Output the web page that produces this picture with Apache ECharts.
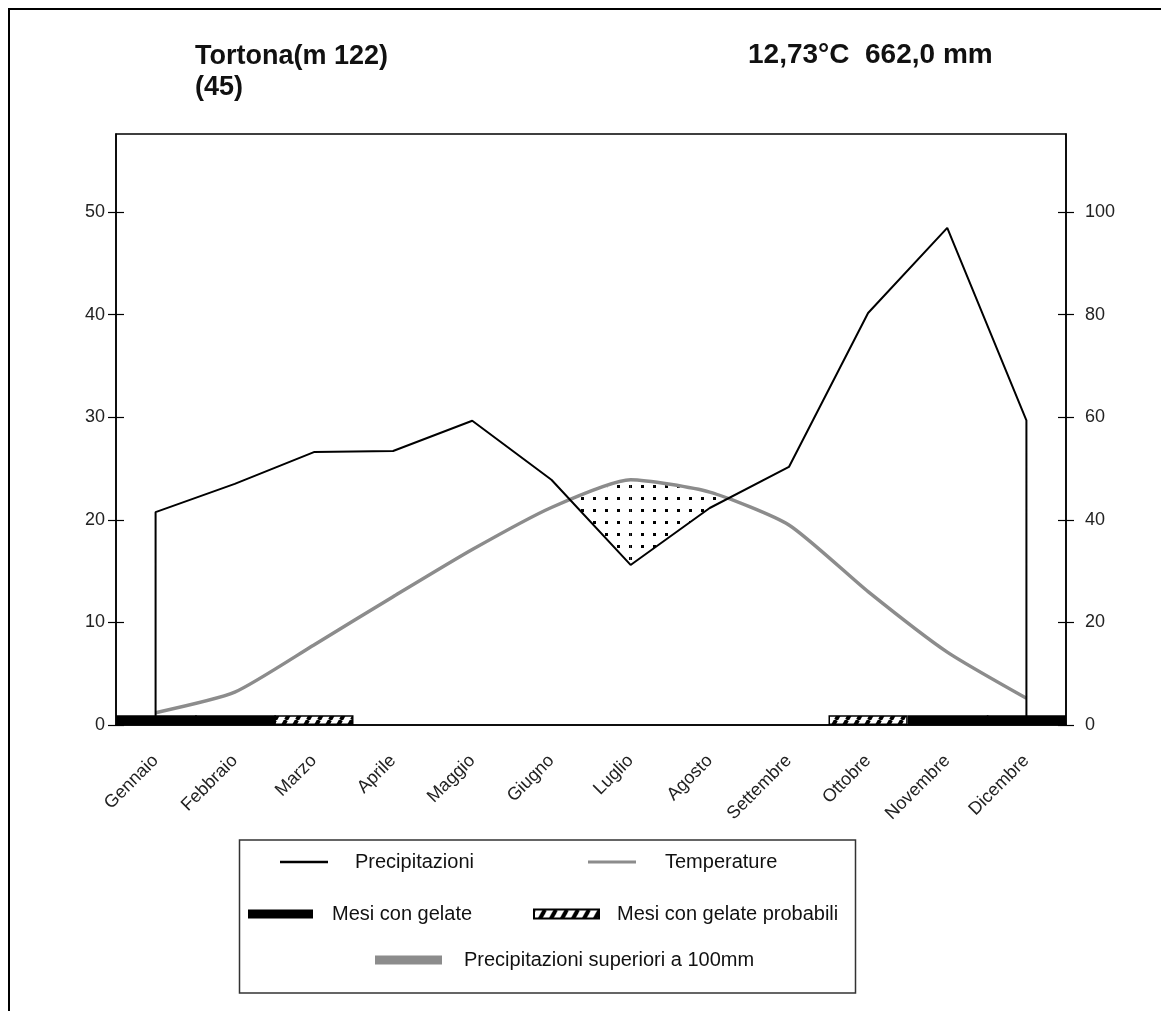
<!DOCTYPE html>
<html><head><meta charset="utf-8">
<script src="https://cdn.jsdelivr.net/npm/echarts@6/dist/echarts.min.js"></script>
<style>html,body{margin:0;padding:0;background:#fff}#c{width:1161px;height:1011px}</style>
</head><body><div id="c"></div>
<script>
// ---- data ----
const months = ['Gennaio','Febbraio','Marzo','Aprile','Maggio','Giugno','Luglio','Agosto','Settembre','Ottobre','Novembre','Dicembre'];
const precipitazioni = [41.5, 47.0, 53.2, 53.4, 59.3, 47.8, 31.2, 42.3, 50.3, 80.3, 96.9, 59.4]; // mm
const temperature = [1.2, 3.2, 7.8, 12.5, 17.1, 21.2, 23.9, 22.7, 19.5, 13.0, 7.1, 2.6];      // °C
const gelate = ['certe','certe','probabili','','','','','','','probabili','certe','certe'];
const tempTicks = [0, 10, 20, 30, 40, 50];
const precTicks = [0, 20, 40, 60, 80, 100];
const stationTitle = 'Tortona(m 122)\n(45)';
const stationSummary = '12,73°C  662,0 mm';
const legendNames = ['Precipitazioni', 'Temperature', 'Mesi con gelate', 'Mesi con gelate probabili', 'Precipitazioni superiori a 100mm'];

// ---- styling constants ----
const FONT = 'Liberation Sans, Arial, sans-serif';
const TEMP_MAX = 57.6, PREC_MAX = 115.2, DRY_RATIO = 2, BAR_H = 0.95;
const GRAY = '#8c8c8c';

function hatchPattern() {
  const c = document.createElement('canvas'); c.width = 11; c.height = 20;
  const g = c.getContext('2d'); g.fillStyle = '#fff'; g.fillRect(0, 0, 11, 20);
  g.strokeStyle = '#000'; g.lineWidth = 4;
  for (const dx of [-11, 0, 11]) { g.beginPath(); g.moveTo(dx, 20); g.lineTo(dx + 11, 0); g.stroke(); }
  return c;
}
function dotPattern() {
  const c = document.createElement('canvas'); c.width = 12; c.height = 12;
  const g = c.getContext('2d'); g.fillStyle = '#000'; g.fillRect(5, 5, 3, 3);
  return c;
}
const hatch = { image: hatchPattern(), repeat: 'repeat' };
const dots = { image: dotPattern(), repeat: 'repeat' };

const chart = echarts.init(document.getElementById('c'), null, { renderer: 'canvas' });

const precLine = [[0, 0]].concat(precipitazioni.map((v, i) => [i, v]), [[months.length - 1, 0]]);

function yAxisBase(pos, max, ticks, inside, labels) {
  return {
    type: 'value', position: pos, min: 0, max: max,
    axisLine: { show: !inside, lineStyle: { color: '#000', width: 1.5 } },
    axisTick: { show: true, inside: inside, length: 8, customValues: ticks, lineStyle: { color: '#000', width: 1.2 } },
    axisLabel: labels ? { show: true, customValues: ticks, fontSize: 18, fontFamily: FONT, color: '#222', margin: pos === 'left' ? 11 : 19 } : { show: false },
    splitLine: { show: false }
  };
}

function legendAt(name, left, cy, w, h, gap) {
  return {
    data: [name], left: left, top: cy - 10, padding: 0, itemGap: 0,
    itemWidth: w, itemHeight: h, selectedMode: false, icon: 'rect',
    textStyle: { fontSize: 20, fontFamily: FONT, color: '#111', padding: [0, 0, 0, gap] }
  };
}

const option = {
  animation: false,
  backgroundColor: '#fff',
  title: [
    { text: stationTitle, left: 195, top: 41, padding: 0,
      textStyle: { fontSize: 27, fontWeight: 'bold', fontFamily: FONT, color: '#111', lineHeight: 31 } },
    { text: stationSummary, left: 748, top: 40, padding: 0,
      textStyle: { fontSize: 28, fontWeight: 'bold', fontFamily: FONT, color: '#111', lineHeight: 31 } }
  ],
  grid: { left: 116, top: 134, right: 95, bottom: 286, show: true, borderColor: '#000', borderWidth: 1.5, containLabel: false },
  xAxis: [{
    type: 'category', data: months, boundaryGap: true,
    axisLine: { lineStyle: { color: '#000', width: 1.5 } },
    axisTick: { show: false },
    axisLabel: { rotate: 45, fontSize: 18, fontFamily: FONT, color: '#222', margin: 33, interval: 0 }
  }],
  yAxis: [
    yAxisBase('left', TEMP_MAX, tempTicks, false, true),
    yAxisBase('right', PREC_MAX, precTicks, false, true),
    yAxisBase('left', TEMP_MAX, tempTicks, true, false),
    yAxisBase('right', PREC_MAX, precTicks, true, false)
  ],
  legend: [
    legendAt(legendNames[0], 280, 862, 48, 2.5, 22),
    legendAt(legendNames[1], 588, 862, 48, 3, 24),
    legendAt(legendNames[2], 248, 914, 65, 9, 14),
    legendAt(legendNames[3], 533, 914, 65, 9, 13),
    legendAt(legendNames[4], 375, 960, 67, 9, 17)
  ],
  graphic: [
    { type: 'rect', shape: { x: 9, y: 9, width: 1200, height: 1100 }, style: { fill: 'none', stroke: '#000', lineWidth: 2 }, silent: true },
    { type: 'rect', shape: { x: 239.5, y: 840, width: 616, height: 153 }, style: { fill: 'none', stroke: '#333', lineWidth: 1.5 }, silent: true }
  ],
  series: [
    {
      name: 'Aridità', type: 'custom', xAxisIndex: 0, yAxisIndex: 0, z: 1, silent: true,
      data: [0],
      renderItem: function (params, api) {
        const children = [];
        const A = temperature.map((t, i) => api.coord([i, t]));
        const B = precipitazioni.map((p, i) => api.coord([i, p / DRY_RATIO]));
        const d = temperature.map((t, i) => t - precipitazioni[i] / DRY_RATIO);
        const lerp = (P, Q, t) => [P[0] + (Q[0] - P[0]) * t, P[1] + (Q[1] - P[1]) * t];
        for (let i = 0; i < months.length - 1; i++) {
          const d0 = d[i], d1 = d[i + 1];
          let pts = null;
          if (d0 > 0 && d1 > 0) pts = [A[i], A[i + 1], B[i + 1], B[i]];
          else if (d0 > 0 && d1 <= 0) { const c = lerp(A[i], A[i + 1], d0 / (d0 - d1)); pts = [A[i], c, B[i]]; }
          else if (d0 <= 0 && d1 > 0) { const c = lerp(A[i], A[i + 1], d0 / (d0 - d1)); pts = [c, A[i + 1], B[i + 1]]; }
          if (pts) children.push({ type: 'polygon', shape: { points: pts }, style: { fill: dots, stroke: null } });
        }
        return { type: 'group', children: children };
      }
    },
    {
      name: legendNames[1], type: 'line', xAxisIndex: 0, yAxisIndex: 0, z: 3,
      data: temperature, symbol: 'none', smooth: 0.2,
      lineStyle: { color: GRAY, width: 3.5 }, itemStyle: { color: GRAY }
    },
    {
      name: legendNames[0], type: 'line', xAxisIndex: 0, yAxisIndex: 1, z: 4,
      data: precLine, symbol: 'none',
      lineStyle: { color: '#000', width: 2 }, itemStyle: { color: '#000' }
    },
    {
      name: legendNames[2], type: 'bar', xAxisIndex: 0, yAxisIndex: 0, z: 5,
      barWidth: '102%', barGap: '-100%', barCategoryGap: '0%',
      data: gelate.map(g => g === 'certe' ? BAR_H : '-'),
      itemStyle: { color: '#000' }
    },
    {
      name: legendNames[3], type: 'bar', xAxisIndex: 0, yAxisIndex: 0, z: 6,
      barWidth: '100%', barGap: '-100%', barCategoryGap: '0%',
      data: gelate.map(g => g === 'probabili' ? BAR_H : '-'),
      itemStyle: { color: hatch, borderColor: '#000', borderWidth: 1.5 }
    },
    {
      name: legendNames[4], type: 'bar', xAxisIndex: 0, yAxisIndex: 1, z: 2,
      barWidth: '100%', barGap: '-100%',
      data: precipitazioni.map(v => v > 100 ? v : '-'),
      itemStyle: { color: GRAY }
    }
  ]
};
chart.setOption(option);
</script>
</body></html>
